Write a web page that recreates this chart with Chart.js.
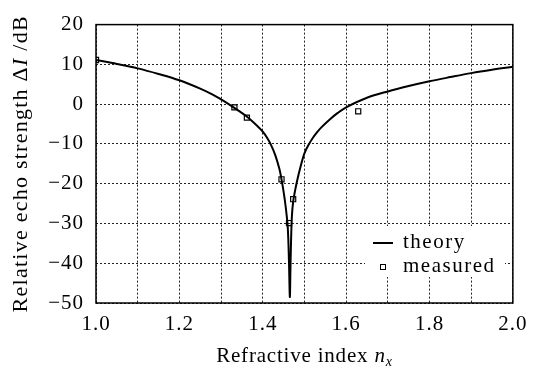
<!DOCTYPE html>
<html>
<head>
<meta charset="utf-8">
<script src="https://cdn.jsdelivr.net/npm/chart.js"></script>
<style>
  html, body { margin: 0; padding: 0; background: #fff; }
  #wrap { width: 535px; height: 371px; }
</style>
</head>
<body>
<div id="wrap"><canvas id="chartEcho" width="535" height="371"></canvas></div>
<script>
// theory curve (refractive index -> dB)
const theoryN  = [1.00, 1.05, 1.10, 1.15, 1.20, 1.25, 1.28, 1.30, 1.32, 1.34, 1.36, 1.38, 1.40, 1.41, 1.42, 1.43, 1.44, 1.445, 1.45, 1.455, 1.46, 1.463, 1.465,
                  1.4665, 1.468, 1.470, 1.473, 1.478, 1.483, 1.49, 1.50, 1.51, 1.52, 1.53, 1.54, 1.56, 1.58, 1.60, 1.65, 1.70, 1.75, 1.80, 1.85, 1.90, 1.95, 2.00];
const theoryDB = [11.1, 10.1, 9.0, 7.6, 6.0, 3.9, 2.4, 1.2, -0.1, -1.5, -3.0, -4.8, -6.9, -8.4, -10.3, -12.8, -16.3, -18.9, -22, -25.8, -31, -40, -48.5,
                  -41, -34, -28, -24.5, -21.5, -19.0, -16.0, -12.4, -10.2, -8.5, -7.1, -5.9, -3.9, -2.2, -0.8, 1.6, 3.2, 4.55, 5.75, 6.8, 7.8, 8.65, 9.4];

// measured points
const measuredN  = [1.00, 1.332, 1.362, 1.445, 1.463, 1.473, 1.629];
const measuredDB = [11.1, -0.8, -3.4, -18.9, -29.9, -23.9, -1.8];

const serif = '"Liberation Serif", "DejaVu Serif", serif';

const toPts = (xs, ys) => xs.map((x, i) => ({ x: x, y: ys[i] }));

// wider letter spacing like the scanned figure
const spacing = {
  id: 'spacing',
  beforeDraw(chart) { chart.ctx.letterSpacing = '1px'; }
};

// frame, axis titles and the boxed legend
const extras = {
  id: 'extras',
  afterDraw(chart) {
    const ctx = chart.ctx;
    const a = chart.chartArea;
    ctx.save();

    // legend box (white, hides grid)
    const lx = 365, ly = 226, lw = 140, lh = 51;
    ctx.fillStyle = '#fff';
    ctx.fillRect(lx, ly, lw, lh);
    ctx.strokeStyle = '#000';
    ctx.lineWidth = 2;
    ctx.beginPath();
    ctx.moveTo(373, 243); ctx.lineTo(393, 243);
    ctx.stroke();
    ctx.lineWidth = 1;
    ctx.strokeRect(380.5, 264.5, 5, 5);
    ctx.fillStyle = '#000';
    ctx.letterSpacing = '1.5px';
    ctx.font = '21px ' + serif;
    ctx.textAlign = 'left';
    ctx.textBaseline = 'middle';
    ctx.fillText(chart.data.datasets[0].label, 403, 242);
    ctx.fillText(chart.data.datasets[1].label, 403, 266);

    // frame
    ctx.lineWidth = 1.5;
    ctx.strokeRect(a.left, a.top, a.right - a.left, a.bottom - a.top);

    // x title
    ctx.letterSpacing = '0.8px';
    ctx.textBaseline = 'alphabetic';
    ctx.font = '21px ' + serif;
    const t1 = 'Refractive index ';
    const w1 = ctx.measureText(t1).width;
    ctx.font = 'italic 21px ' + serif;
    const w2 = ctx.measureText('n').width;
    ctx.font = 'italic 14px ' + serif;
    const w3 = ctx.measureText('x').width;
    let x0 = (a.left + a.right) / 2 - (w1 + w2 + w3) / 2;
    const yb = 362;
    ctx.font = '21px ' + serif;
    ctx.fillText(t1, x0, yb);
    ctx.font = 'italic 21px ' + serif;
    ctx.fillText('n', x0 + w1, yb);
    ctx.font = 'italic 14px ' + serif;
    ctx.fillText('x', x0 + w1 + w2, yb + 4);

    // y title (rotated)
    ctx.letterSpacing = '1.25px';
    ctx.translate(27, (a.top + a.bottom) / 2);
    ctx.rotate(-Math.PI / 2);
    const parts = [['Relative echo strength Δ', ''], ['I', 'italic '], [' /dB', '']];
    let total = 0;
    parts.forEach(p => { ctx.font = p[1] + '22px ' + serif; total += ctx.measureText(p[0]).width; });
    let px = -total / 2;
    parts.forEach(p => {
      ctx.font = p[1] + '22px ' + serif;
      ctx.fillText(p[0], px, 0);
      px += ctx.measureText(p[0]).width;
    });
    ctx.restore();
  }
};

const ctx = document.getElementById('chartEcho').getContext('2d');
new Chart(ctx, {
  type: 'scatter',
  data: {
    datasets: [
      {
        label: 'theory',
        data: toPts(theoryN, theoryDB),
        showLine: true,
        borderColor: '#000',
        borderWidth: 2,
        pointRadius: 0,
        tension: 0.35,
        order: 2
      },
      {
        label: 'measured',
        data: toPts(measuredN, measuredDB),
        showLine: false,
        pointStyle: 'rect',
        pointRadius: 3.6,
        pointBorderColor: '#000',
        pointBackgroundColor: 'rgba(255,255,255,0)',
        pointBorderWidth: 1.2,
        order: 1
      }
    ]
  },
  options: {
    responsive: false,
    animation: false,
    layout: { padding: { top: 18, right: 18, left: 0, bottom: 0 } },
    plugins: { legend: { display: false }, tooltip: { enabled: false } },
    scales: {
      x: {
        type: 'linear', min: 1.0, max: 2.0,
        afterFit: s => { s.height = 68; },
        grid: { color: '#222', lineWidth: 1, drawTicks: false },
        border: { display: false, dash: [2, 2] },
        ticks: {
          stepSize: 0.1, padding: 9, color: '#000',
          font: { family: serif, size: 21 },
          callback: v => (Math.round(v * 10) % 2 === 0 ? v.toFixed(1) : '')
        }
      },
      y: {
        type: 'linear', min: -50, max: 20,
        afterFit: s => { s.width = 96; },
        grid: { color: '#222', lineWidth: 1, drawTicks: false },
        border: { display: false, dash: [2, 2] },
        ticks: {
          stepSize: 10, padding: 12, color: '#000',
          font: { family: serif, size: 21 },
          callback: v => String(v).replace('-', '\u2212')
        }
      }
    }
  },
  plugins: [spacing, extras]
});
</script>
</body>
</html>
